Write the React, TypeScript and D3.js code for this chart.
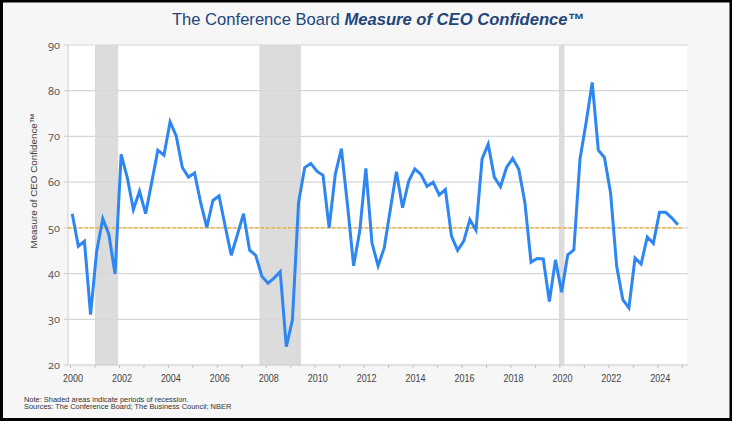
import React from "react";
import * as d3 from "d3";

// ---- data ----
const years = d3.range(2000, 2025);
const quarterOffsets = [0, 0.25, 0.5, 0.75];
const ceoConfidence = [
  53.1, 46.0, 47.1, 31.0,
  44.9, 52.0, 48.5, 39.9,
  66.1, 61.0, 54.0, 58.0,
  53.1, 60.0, 67.0, 65.9,
  73.2, 70.1, 63.2, 61.1,
  62.0, 55.5, 50.1, 56.0,
  57.0, 50.4, 44.0, 48.5,
  53.1, 45.1, 44.0, 39.4,
  37.9, 39.0, 40.4, 24.0,
  29.9, 55.5, 63.2, 64.1,
  62.4, 61.5, 50.0, 61.7,
  67.3, 55.0, 41.7, 49.3,
  63.0, 46.7, 41.7, 45.6,
  54.0, 62.3, 54.4, 60.2,
  62.9, 61.7, 59.1, 60.0,
  57.2, 58.4, 48.2, 45.1,
  47.1, 51.8, 49.5, 65.1,
  68.3, 61.1, 59.0, 63.2,
  65.2, 62.8, 55.5, 42.5,
  43.3, 43.2, 33.9, 43.0,
  35.9, 44.1, 45.2, 65.0,
  73.0, 81.8, 67.0, 65.4,
  57.7, 41.6, 34.3, 32.5,
  43.4, 42.1, 48.0, 46.6,
  53.4, 53.4, 52.2, 50.7,
];
const recessionStarts = [2001.0, 2007.72, 2019.96];
const recessionEnds = [2001.95, 2009.42, 2020.19];
const yTicks = [20, 30, 40, 50, 60, 70, 80, 90];
const xTickYears = d3.range(2000, 2026);
const xLabelYears = d3.range(2000, 2025, 2);
const referenceLevel = 50;
const titlePlain = "The Conference Board ";
const titleEmph = "Measure of CEO Confidence™";
const yAxisTitle = "Measure of CEO Confidence™";
const noteLines = [
  "Note: Shaded areas indicate periods of recession.",
  "Sources: The Conference Board; The Business Council; NBER",
];

const W = 732;
const H = 421;
const plot = { left: 68, right: 687, top: 45, bottom: 365 };

export default function App() {
  const x = d3.scaleLinear().domain([2000, 2025]).range([70.5, 682.25]);
  const y = d3.scaleLinear().domain([20, 90]).range([plot.bottom, plot.top]);

  const points = ceoConfidence.map((v, i) => ({
    t: years[Math.floor(i / 4)] + quarterOffsets[i % 4] + 0.07,
    v,
  }));
  const line = d3
    .line<{ t: number; v: number }>()
    .x((d) => x(d.t))
    .y((d) => y(d.v));

  const sans = "'Liberation Sans', Arial, Helvetica, sans-serif";

  return (
    <svg
      width={W}
      height={H}
      style={{ position: "absolute", left: 0, top: 0, display: "block" }}
    >
      <rect x={0} y={0} width={W} height={H} fill="#000" />
      <rect x={3} y={2.5} width={726.5} height={415.5} fill="#f6f6f6" />
      <rect
        x={plot.left}
        y={plot.top}
        width={plot.right - plot.left}
        height={plot.bottom - plot.top}
        fill="#fff"
      />
      {recessionStarts.map((s, i) => (
        <rect
          key={"r" + i}
          x={x(s)}
          y={plot.top}
          width={x(recessionEnds[i]) - x(s)}
          height={plot.bottom - plot.top}
          fill="#dcdcdc"
        />
      ))}
      {yTicks.map((t) => (
        <g key={"g" + t}>
          <line
            x1={plot.left - 4}
            x2={plot.right + 1}
            y1={y(t)}
            y2={y(t)}
            stroke={t === 20 ? "#c8c8c8" : "#d6d6d6"}
            strokeWidth={1.2}
          />
          <text
            x={60}
            y={y(t)}
            dy="0.35em"
            textAnchor="end"
            fontSize={11}
            fill="#5a5a5a"
            fontFamily="'Noto Sans', 'DejaVu Sans', sans-serif"
            style={{ fontVariantNumeric: "oldstyle-nums" }}
          >
            {t}
          </text>
        </g>
      ))}
      <line
        x1={plot.left}
        x2={plot.left}
        y1={plot.top}
        y2={plot.bottom}
        stroke="#d0d0d0"
        strokeWidth={1}
      />
      {xTickYears.map((yr) => (
        <line
          key={"xt" + yr}
          x1={x(yr)}
          x2={x(yr)}
          y1={plot.bottom}
          y2={plot.bottom + 3}
          stroke="#c0c0c0"
          strokeWidth={1}
        />
      ))}
      {xLabelYears.map((yr) => (
        <text
          key={"xl" + yr}
          x={x(yr) + 2.5}
          y={382}
          textAnchor="middle"
          fontSize={11.5}
          fill="#444"
          fontFamily={sans}
          textLength={20}
          lengthAdjust="spacingAndGlyphs"
        >
          {yr}
        </text>
      ))}
      <line
        x1={plot.left}
        x2={683}
        y1={y(referenceLevel)}
        y2={y(referenceLevel)}
        stroke="#f5a81c"
        strokeWidth={1.4}
        strokeDasharray="3.5 2"
      />
      <path
        d={line(points) || ""}
        fill="none"
        stroke="#2d86f2"
        strokeWidth={3}
        strokeLinejoin="miter"
        strokeMiterlimit={4}
      />
      <text
        transform={`translate(36.5, 181) rotate(-90)`}
        textAnchor="middle"
        fontSize={9.8}
        fill="#404040"
        fontFamily={sans}
      >
        {yAxisTitle}
      </text>
      <text
        x={378}
        y={25}
        textAnchor="middle"
        fontSize={16.6}
        fill="#24457a"
        fontFamily={sans}
      >
        <tspan>{titlePlain}</tspan>
        <tspan fontWeight="bold" fontStyle="italic">
          {titleEmph}
        </tspan>
      </text>
      {noteLines.map((n, i) => (
        <text
          key={"n" + i}
          x={24}
          y={401.5 + i * 7.8}
          fontSize={7.45}
          fill="#333"
          fontFamily={sans}
        >
          {n}
        </text>
      ))}
    </svg>
  );
}
